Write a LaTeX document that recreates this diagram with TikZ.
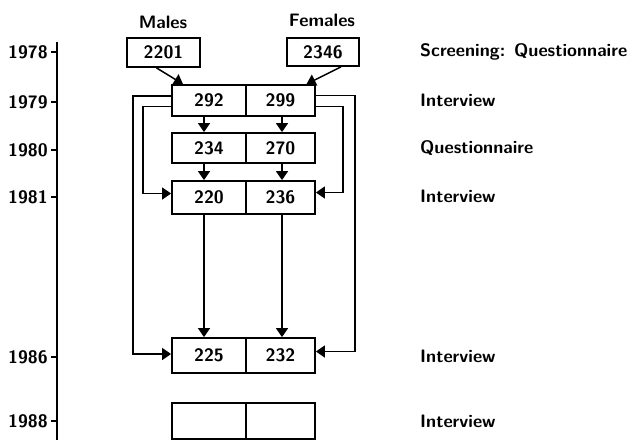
\documentclass[tikz,border=0pt]{standalone}
\usepackage{fontspec}
\usetikzlibrary{arrows.meta}
\begin{document}
\begin{tikzpicture}[x=1pt,y=-1pt,
  every node/.style={font=\fontsize{18}{21}\selectfont\sffamily\bfseries},
  cell/.style={draw,line width=1.8pt,inner sep=0pt,anchor=center},
  lcell/.style={cell,minimum width=74pt},
  rcell/.style={cell,minimum width=69pt},
  ln/.style={line width=1.5pt},
  arr/.style={ln,-{Triangle[length=9pt,width=12pt]}},
  yr/.style={anchor=east,inner sep=0pt},
  lab/.style={anchor=west,inner sep=0pt}]
\useasboundingbox (0,0) rectangle (635,440);
% time axis
\draw[ln] (57,42) -- (57,440);
\foreach \y/\t [count=\i] in {52/1978,102/1979,150/1980,197/1981,357/1986,421/1988}{
  \node[yr] (y\i) at (48,\y) {\t};
  \draw[ln] (51,\y) -- (57,\y);
}
% headings
\node (males) at (163,22) {Males};
\node (females) at (322,20) {Females};
% screening boxes
\node[cell,minimum width=73pt,minimum height=29pt] (sm) at (163.5,52.5) {2201};
\node[cell,minimum width=72pt,minimum height=28pt] (sf) at (323,52) {2346};
% rows
\node[lcell,minimum height=31pt] (m79) at (209,100.5) {292};
\node[rcell,minimum height=31pt] (f79) at (280.5,100.5) {299};
\node[lcell,minimum height=30pt] (m80) at (209,148) {234};
\node[rcell,minimum height=30pt] (f80) at (280.5,148) {270};
\node[lcell,minimum height=33pt] (m81) at (209,197.5) {220};
\node[rcell,minimum height=33pt] (f81) at (280.5,197.5) {236};
\node[lcell,minimum height=35pt] (m86) at (209,355.5) {225};
\node[rcell,minimum height=35pt] (f86) at (280.5,355.5) {232};
\node[lcell,minimum height=36pt] (m88) at (209,421) {};
\node[rcell,minimum height=36pt] (f88) at (280.5,421) {};
% right labels
\node[lab] (l78) at (420,52) {Screening: Questionnaire};
\node[lab] (l79) at (420,100) {Interview};
\node[lab] (l80) at (420,148) {Questionnaire};
\node[lab] (l81) at (420,196) {Interview};
\node[lab] (l86) at (420,356) {Interview};
\node[lab] (l88) at (420,421) {Interview};
% arrows from screening
\draw[arr] ([xshift=-7pt]sm.south) -- ([xshift=-26pt]m79.north);
\draw[arr] ([xshift=18pt]sf.south) -- ([xshift=26pt]f79.north);
% vertical arrows
\draw[arr] ([xshift=-5pt]m79.south) -- ([xshift=-5pt]m80.north);
\draw[arr] ([xshift=1.5pt]f79.south) -- ([xshift=1.5pt]f80.north);
\draw[arr] ([xshift=-5pt]m80.south) -- ([xshift=-5pt]m81.north);
\draw[arr] ([xshift=1.5pt]f80.south) -- ([xshift=1.5pt]f81.north);
\draw[arr] ([xshift=-5pt]m81.south) -- ([xshift=-5pt]m86.north);
\draw[arr] ([xshift=1.5pt]f81.south) -- ([xshift=1.5pt]f86.north);
% loop connectors
\draw[arr] ([yshift=4.5pt]m79.west) -- ++(-38,0) |- ([yshift=1.5pt]m86.west);
\draw[arr] ([yshift=-6pt]m79.west) -- ++(-28,0) |- ([yshift=4pt]m81.west);
\draw[arr] ([yshift=5pt]f79.east) -- ++(39,0) |- ([yshift=4pt]f86.east);
\draw[arr] ([yshift=-6pt]f79.east) -- ++(27,0) |- ([yshift=5pt]f81.east);
\end{tikzpicture}
\end{document}
